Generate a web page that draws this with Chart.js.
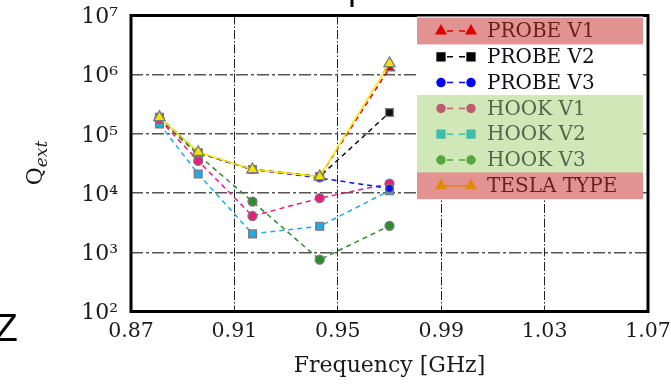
<!DOCTYPE html>
<html>
<head>
<meta charset="utf-8">
<script src="https://cdn.jsdelivr.net/npm/chart.js@4.4.0/dist/chart.umd.min.js"></script>
<style>
    html, body { margin: 0; padding: 0; background: #fff; }
    #wrap { width: 671px; height: 385px; }
</style>
</head>
<body>
<div id="wrap"><canvas id="qextChart" width="671" height="385"></canvas></div>
<script>
const frequencies = [0.881, 0.896, 0.917, 0.943, 0.970];

const probeV1 = [190000, 48000, 25000, 19000, 1300000];
const probeV2 = [190000, 48000, 25000, 19000, 230000];
const probeV3 = [190000, 48000, 25000, 18000, 12000];
const hookV1 = [175000, 35000, 4100, 8200, 14500];
const hookV2 = [147000, 21000, 2050, 2750, 11000];
const hookV3 = [180000, 44000, 7200, 750, 2800];
const teslaType = [190000, 49000, 25000, 19000, 1550000];

const xTicks = [0.87, 0.91, 0.95, 0.99, 1.03, 1.07];
const yTicks = [1e2, 1e3, 1e4, 1e5, 1e6, 1e7];

const serif = '"DejaVu Serif", "Liberation Serif", serif';
const sup = { '2': '\u00B2', '3': '\u00B3', '4': '\u2074', '5': '\u2075', '6': '\u2076', '7': '\u2077' };

function makeSeries(label, values, color, style, size, extra) {
    return Object.assign({
        label: label,
        data: frequencies.map((f, i) => ({ x: f, y: values[i] })),
        borderColor: color,
        backgroundColor: color,
        pointBackgroundColor: color,
        pointBorderColor: '#7a7a7a',
        pointBorderWidth: 1.3,
        pointStyle: style,
        pointRadius: size,
        borderWidth: 1.5,
        borderDash: [5, 4],
        tension: 0,
        fill: false
    }, extra);
}

const datasets = [
    makeSeries('PROBE V1', probeV1, '#e00000', 'triangle', 6, { order: 5, legendColor: '#e00000', legendText: '#6e1c1c', band: '#e39292' }),
    makeSeries('PROBE V2', probeV2, '#111111', 'rect', 5.5, { order: 4, legendColor: '#000000', legendText: '#101018' }),
    makeSeries('PROBE V3', probeV3, '#1010f0', 'circle', 4, { order: 3, legendColor: '#0000ff', legendText: '#101018' }),
    makeSeries('HOOK V1', hookV1, '#ec1b7e', 'circle', 4.5, { order: 6, legendColor: '#c05a70', legendText: '#56664a', band: '#d0e8b8' }),
    makeSeries('HOOK V2', hookV2, '#22aae8', 'rect', 5.5, { order: 7, legendColor: '#3cbcaa', legendText: '#56664a', band: '#d0e8b8' }),
    makeSeries('HOOK V3', hookV3, '#2e8b2e', 'circle', 4.5, { order: 8, legendColor: '#55a63c', legendText: '#56664a', band: '#d0e8b8' }),
    makeSeries('TESLA TYPE', teslaType, '#f5e400', 'triangle', 6.5, { order: 1, borderDash: [], legendColor: '#e08a00', legendText: '#6e1c1c', band: '#e39292' })
];

const framePlugin = {
    id: 'frame',
    beforeDatasetsDraw(chart) {
        const a = chart.chartArea;
        const ctx = chart.ctx;
        ctx.save();
        ctx.strokeStyle = '#000';
        ctx.lineWidth = 3;
        ctx.strokeRect(a.left, a.top, a.right - a.left, a.bottom - a.top);
        ctx.restore();
    },
    afterDatasetsDraw(chart) {
        const ctx = chart.ctx;
        const a = chart.chartArea;
        const boxL = a.right - 231, boxR = a.right - 5;
        const boxT = a.top + 1;
        const rowH = 25.8;
        ctx.save();
        ctx.fillStyle = '#fff';
        ctx.fillRect(boxL, boxT, boxR - boxL, rowH * 7 + 1);
        chart.data.datasets.forEach((ds, i) => {
            const cy = boxT + 14.5 + i * rowH;
            if (ds.band) {
                ctx.fillStyle = ds.band;
                ctx.fillRect(boxL, cy - rowH / 2 - 0.5, boxR - boxL, rowH + 1);
            }
        });
        chart.data.datasets.forEach((ds, i) => {
            const cy = boxT + 14.5 + i * rowH;
            const x1 = boxL + 24, x2 = boxL + 54;
            ctx.strokeStyle = ds.legendColor;
            ctx.lineWidth = 1.5;
            ctx.setLineDash(ds.borderDash.length ? [6, 6] : []);
            ctx.lineDashOffset = -6;
            ctx.beginPath();
            ctx.moveTo(x1, cy);
            ctx.lineTo(x2, cy);
            ctx.stroke();
            ctx.setLineDash([]);
            const opts = { pointStyle: ds.pointStyle, radius: ds.pointStyle === 'circle' ? 4 : 5.5, rotation: 0, borderWidth: 1 };
            [x1, x2].forEach(x => {
                ctx.fillStyle = ds.legendColor;
                ctx.strokeStyle = ds.legendColor;
                Chart.helpers.drawPoint(ctx, opts, x, cy);
            });
            ctx.fillStyle = ds.legendText;
            ctx.font = '20px ' + serif;
            ctx.textBaseline = 'middle';
            ctx.textAlign = 'left';
            ctx.fillText(ds.label, boxL + 70, cy + 1);
        });
        ctx.restore();
    },
    afterDraw(chart) {
        const ctx = chart.ctx;
        ctx.save();
        // y axis title Q_ext
        ctx.translate(42, 163);
        ctx.rotate(-Math.PI / 2);
        ctx.fillStyle = '#1a1a1a';
        ctx.textBaseline = 'alphabetic';
        ctx.font = '22px ' + serif;
        const wQ = ctx.measureText('Q').width;
        ctx.font = 'italic 17px ' + serif;
        const wE = ctx.measureText('ext').width;
        const start = -(wQ + wE) / 2;
        ctx.font = '22px ' + serif;
        ctx.fillText('Q', start, 0);
        ctx.font = 'italic 17px ' + serif;
        ctx.fillText('ext', start + wQ, 5);
        ctx.restore();

        // cropped neighbours of the scan
        ctx.save();
        ctx.fillStyle = '#000';
        ctx.font = '39px "Liberation Sans", Arial, sans-serif';
        ctx.textBaseline = 'alphabetic';
        ctx.fillText('Z', -6, 341);
        ctx.fillRect(350.5, 0, 3, 7);
        ctx.restore();
    }
};

new Chart(document.getElementById('qextChart').getContext('2d'), {
    type: 'line',
    data: { datasets: datasets },
    options: {
        responsive: false,
        animation: false,
        layout: { padding: { top: 15.5, right: 23, left: 0, bottom: 0 } },
        plugins: {
            legend: { display: false },
            tooltip: { enabled: false }
        },
        scales: {
            x: {
                type: 'linear',
                min: 0.87,
                max: 1.07,
                afterBuildTicks: s => { s.ticks = xTicks.map(v => ({ value: v })); },
                afterFit: s => { s.height = 73.5; s.paddingLeft = 0; s.paddingRight = 0; },
                grid: { color: '#222', lineWidth: 1, drawTicks: false },
                border: { display: false, dash: [9, 2, 1.5, 2] },
                ticks: {
                    padding: 8,
                    color: '#1a1a1a',
                    font: { family: serif, size: 20.5 },
                    maxRotation: 0,
                    callback: v => v.toFixed(2)
                },
                title: {
                    display: true,
                    text: 'Frequency [GHz]',
                    color: '#1a1a1a',
                    font: { family: serif, size: 22 },
                    padding: { top: 0, bottom: 6 }
                }
            },
            y: {
                type: 'logarithmic',
                min: 1e2,
                max: 1e7,
                afterBuildTicks: s => { s.ticks = yTicks.map(v => ({ value: v })); },
                afterFit: s => { s.width = 131; s.paddingTop = 0; s.paddingBottom = 0; },
                grid: { color: '#555', lineWidth: 1.5, drawTicks: false },
                border: { display: false, dash: [12, 3, 3, 3] },
                ticks: {
                    padding: 13,
                    labelOffset: 2,
                    color: '#1a1a1a',
                    font: { family: serif, size: 22 },
                    callback: v => '10' + sup[String(Math.round(Math.log10(v)))]
                }
            }
        }
    },
    plugins: [framePlugin]
});
</script>
</body>
</html>
